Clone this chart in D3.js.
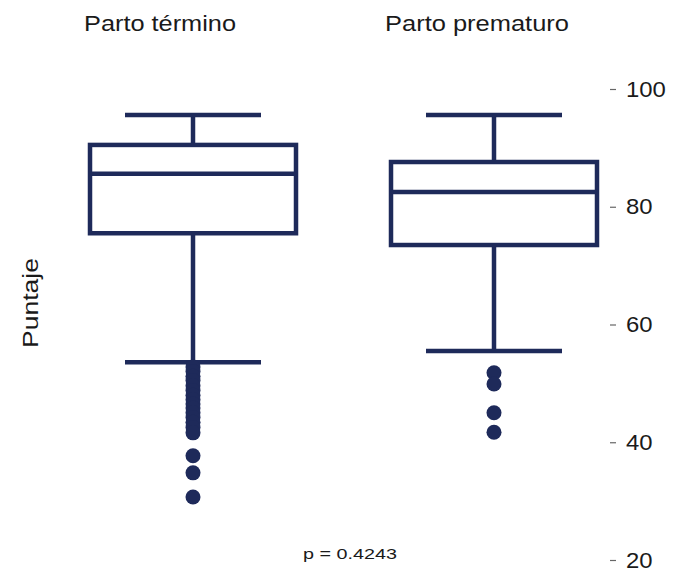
<!DOCTYPE html>
<html>
<head>
<meta charset="utf-8">
<script src="https://cdn.jsdelivr.net/npm/d3@7"></script>
<style>
  html, body { margin: 0; padding: 0; background: #fff; }
  svg { display: block; }
  text { font-family: "Liberation Sans", Arial, Helvetica, sans-serif; fill: #1a1a1a; }
</style>
</head>
<body>
<svg id="chart" width="673" height="575"></svg>
<script>
// Score distribution by type of delivery
const categories = ["Parto término", "Parto prematuro"];
const whiskerHigh = [95.6, 95.6];
const q3 = [90.5, 87.6];
const median = [85.6, 82.5];
const q1 = [75.5, 73.5];
const whiskerLow = [53.6, 55.5];
const outliers = [
  [52.8, 52.0, 51.2, 50.5, 49.6, 48.8, 48.0, 47.2, 46.5, 45.8, 45.0, 44.2, 43.4, 42.5, 41.6, 37.7, 34.8, 30.7],
  [51.8, 49.9, 45.0, 41.7]
];
const yTicks = [20, 40, 60, 80, 100];
const pValue = "p = 0.4243";
const yLabel = "Puntaje";

const navy = "#1e2a5a";
const svg = d3.select("#chart");

const y = d3.scaleLinear().domain([20, 100]).range([560, 89]);
const x = d3.scalePoint().domain(categories).range([193, 494]);

const boxW = 206, capW = 136, sw = 4.5;

const groups = svg.selectAll("g.box")
  .data(categories.map((c, i) => ({
    c, hi: whiskerHigh[i], q3: q3[i], med: median[i], q1: q1[i], lo: whiskerLow[i], out: outliers[i]
  })))
  .join("g")
  .attr("class", "box")
  .attr("transform", d => `translate(${x(d.c)},0)`);

// whisker stems
groups.append("line")
  .attr("x1", 0).attr("x2", 0)
  .attr("y1", d => y(d.hi)).attr("y2", d => y(d.q3))
  .attr("stroke", navy).attr("stroke-width", sw);
groups.append("line")
  .attr("x1", 0).attr("x2", 0)
  .attr("y1", d => y(d.q1)).attr("y2", d => y(d.lo))
  .attr("stroke", navy).attr("stroke-width", sw);

// whisker caps
groups.selectAll("line.cap")
  .data(d => [d.hi, d.lo])
  .join("line")
  .attr("class", "cap")
  .attr("x1", -capW / 2).attr("x2", capW / 2)
  .attr("y1", v => y(v)).attr("y2", v => y(v))
  .attr("stroke", navy).attr("stroke-width", sw);

// interquartile box
groups.append("rect")
  .attr("x", -boxW / 2).attr("width", boxW)
  .attr("y", d => y(d.q3)).attr("height", d => y(d.q1) - y(d.q3))
  .attr("fill", "none").attr("stroke", navy).attr("stroke-width", sw);

// median
groups.append("line")
  .attr("x1", -boxW / 2).attr("x2", boxW / 2)
  .attr("y1", d => y(d.med)).attr("y2", d => y(d.med))
  .attr("stroke", navy).attr("stroke-width", sw);

// outliers
groups.selectAll("circle")
  .data(d => d.out)
  .join("circle")
  .attr("cx", 0).attr("cy", v => y(v)).attr("r", 7.5)
  .attr("fill", navy);

// right-hand axis
const axis = svg.append("g")
  .attr("transform", "translate(610,0)")
  .call(d3.axisRight(y).tickValues(yTicks).tickSize(6).tickPadding(10));
axis.select(".domain").remove();
axis.selectAll(".tick line").attr("stroke", "#666").attr("stroke-width", 1.2);
axis.selectAll(".tick text")
  .attr("font-size", 22).attr("fill", "#1a1a1a")
  .attr("textLength", function (d) { return String(d).length * 13.3; })
  .attr("lengthAdjust", "spacingAndGlyphs");

// category titles
const titleX = [160, 477], titleLen = [152, 184];
svg.selectAll("text.title")
  .data(categories)
  .join("text")
  .attr("class", "title")
  .attr("x", (d, i) => titleX[i]).attr("y", 31)
  .attr("text-anchor", "middle")
  .attr("font-size", 22)
  .attr("textLength", (d, i) => titleLen[i])
  .attr("lengthAdjust", "spacingAndGlyphs")
  .text(d => d);

// y label
svg.append("text")
  .attr("transform", "translate(38,303) rotate(-90)")
  .attr("text-anchor", "middle")
  .attr("font-size", 22)
  .attr("textLength", 90)
  .attr("lengthAdjust", "spacingAndGlyphs")
  .text(yLabel);

// p-value
svg.append("text")
  .attr("x", 350).attr("y", 559)
  .attr("text-anchor", "middle")
  .attr("font-size", 14)
  .attr("textLength", 94)
  .attr("lengthAdjust", "spacingAndGlyphs")
  .text(pValue);
</script>
</body>
</html>
